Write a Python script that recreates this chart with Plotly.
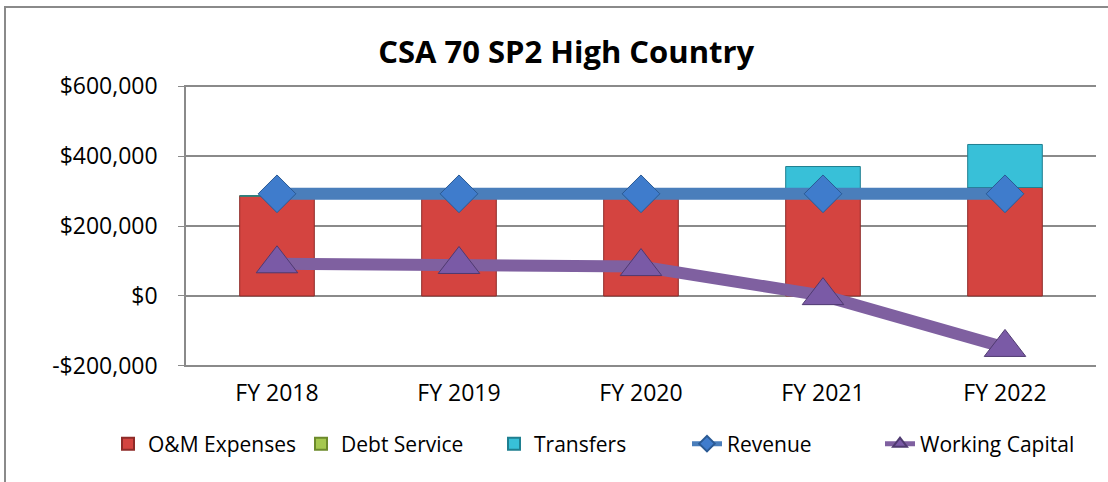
import plotly.graph_objects as go

years = ["FY 2018", "FY 2019", "FY 2020", "FY 2021", "FY 2022"]
om_expenses = [286000, 284000, 284000, 300000, 310000]
debt_service = [0, 0, 0, 0, 0]
transfers = [0, 0, 0, 70000, 123000]
revenue = [292000, 292000, 292000, 292000, 292000]
working_capital = [92000, 90000, 84000, 1000, -147000]
y_ticks = [-200000, 0, 200000, 400000, 600000]
y_tick_text = ["-$200,000", "$0", "$200,000", "$400,000", "$600,000"]

FONT = "Open Sans, Noto Sans, DejaVu Sans, sans-serif"

fig = go.Figure()
fig.add_trace(go.Bar(
    x=years, y=om_expenses, name="O&M Expenses", width=0.41,
    marker=dict(color="#d44440", line=dict(color="#8e2b28", width=1)),
))
fig.add_trace(go.Bar(
    x=years, y=debt_service, name="Debt Service", width=0.41,
    marker=dict(color="#a5c84f", line=dict(color="#6c8a2b", width=1)),
))
fig.add_trace(go.Bar(
    x=years, y=transfers, name="Transfers", width=0.41,
    marker=dict(color="#38c0d8", line=dict(color="#1f7f90", width=1)),
))
fig.add_trace(go.Scatter(
    x=years, y=revenue, name="Revenue", mode="lines+markers",
    line=dict(color="#4a7ebb", width=12),
    marker=dict(symbol="diamond", size=29, color="#3f7ccc",
                line=dict(color="#2a5a94", width=1)),
))
fig.add_trace(go.Scatter(
    x=years, y=working_capital, name="Working Capital", mode="lines+markers",
    line=dict(color="#7f60a0", width=12),
    marker=dict(symbol="triangle-up", size=36, color="#7a5aa6",
                line=dict(color="#4f3a70", width=1)),
))

# plot area spans 85..367 px, so -200k/600k gridlines sit 1px inside the edges
PH = 282
fig.update_layout(
    width=1108, height=482,
    margin=dict(l=186, r=12, t=85, b=115),
    paper_bgcolor="white", plot_bgcolor="white",
    barmode="relative",
    font=dict(family=FONT, size=23, color="black"),
    title=dict(text="<b>CSA 70 SP2 High Country</b>", x=0.511, xanchor="center",
               y=1 - 52 / 482, yanchor="middle",
               font=dict(family=FONT, size=31, color="black")),
    showlegend=True,
    legend=dict(orientation="h", x=(108 - 186) / 910, xanchor="left",
                y=(367 - 444) / PH, yanchor="middle",
                font=dict(family=FONT, size=21, color="black"),
                entrywidth=148, entrywidthmode="pixels",
                itemsizing="constant", traceorder="normal",
                bgcolor="rgba(0,0,0,0)"),
    xaxis=dict(type="category", showgrid=False, showline=False, zeroline=False,
               automargin=False,
               ticks="", tickfont=dict(size=23), ticklabelstandoff=10),
    yaxis=dict(range=[-203000, 603000], tickvals=y_ticks, ticktext=y_tick_text,
               automargin=False,
               showgrid=True, gridcolor="#8a8a8a", gridwidth=1.5,
               zeroline=False, showline=True, linecolor="#8a8a8a", linewidth=1.5,
               ticks="outside", ticklen=6, tickcolor="#8a8a8a",
               tickfont=dict(size=23), ticklabelstandoff=16),
    shapes=[dict(type="rect", xref="paper", yref="paper",
                 x0=(5 - 186) / 910, x1=(1120 - 186) / 910,
                 y0=(367 - 495) / PH, y1=(367 - 7) / PH,
                 line=dict(color="#8a8a8a", width=2), fillcolor="rgba(0,0,0,0)",
                 layer="below")],
)

fig.write_html("out.html", config={"displayModeBar": False},
               post_script="document.body.style.margin='0';")
